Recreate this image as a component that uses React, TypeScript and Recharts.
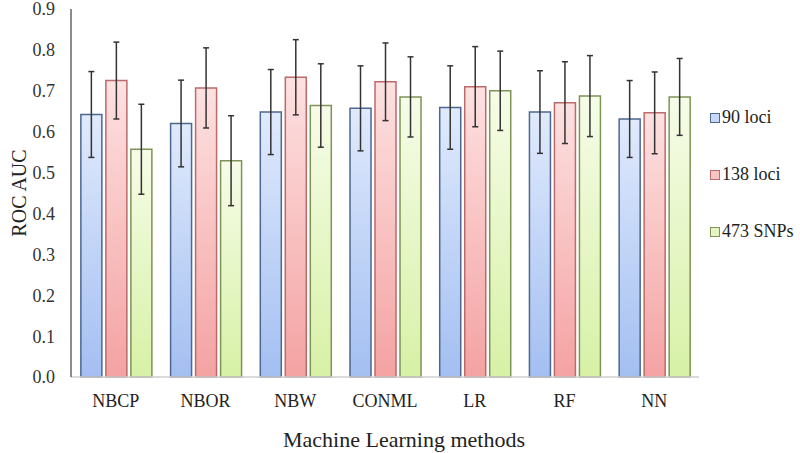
import { BarChart, Bar, XAxis, YAxis, Legend, ErrorBar } from "recharts";

const methods = ["NBCP", "NBOR", "NBW", "CONML", "LR", "RF", "NN"];
const loci90 = [0.642, 0.62, 0.648, 0.657, 0.659, 0.648, 0.631];
const loci90Err = [0.105, 0.106, 0.104, 0.104, 0.102, 0.101, 0.094];
const loci138 = [0.725, 0.707, 0.733, 0.722, 0.71, 0.671, 0.646];
const loci138Err = [0.094, 0.098, 0.092, 0.095, 0.098, 0.1, 0.1];
const snps473 = [0.557, 0.529, 0.664, 0.685, 0.7, 0.687, 0.685];
const snps473Err = [0.11, 0.11, 0.102, 0.098, 0.097, 0.099, 0.094];
const seriesNames = ["90 loci", "138 loci", "473 SNPs"];
const yTicks = [0, 0.1, 0.2, 0.3, 0.4, 0.5, 0.6, 0.7, 0.8, 0.9];

const data = methods.map((m, i) => ({
    method: m,
    l90: loci90[i],
    l90e: loci90Err[i],
    l138: loci138[i],
    l138e: loci138Err[i],
    s473: snps473[i],
    s473e: snps473Err[i],
}));

const serif = '"Liberation Serif", "Times New Roman", serif';

const legendItems = [
    { name: seriesNames[0], fill: "#c6d8f6", stroke: "#4d6791" },
    { name: seriesNames[1], fill: "#f9c4c4", stroke: "#bb6b6b" },
    { name: seriesNames[2], fill: "#e3f6bf", stroke: "#7f9356" },
];

const renderLegend = () => (
    <div style={{ fontFamily: serif, fontSize: 18, color: "#222" }}>
        {legendItems.map((s) => (
            <div key={s.name} style={{ height: 57, display: "flex", alignItems: "center" }}>
                <span
                    style={{
                        display: "inline-block",
                        width: 8,
                        height: 8,
                        border: `1px solid ${s.stroke}`,
                        background: s.fill,
                        marginRight: 2,
                    }}
                />
                <span>{s.name}</span>
            </div>
        ))}
    </div>
);

export default function App() {
    return (
        <div
            style={{
                position: "absolute",
                left: 0,
                top: 0,
                width: 800,
                height: 453,
                background: "#fff",
                fontFamily: serif,
            }}
        >
            <BarChart
                width={800}
                height={453}
                data={data}
                margin={{ top: 9, right: 101, bottom: 0, left: 0 }}
                barCategoryGap="11%"
                barGap={4}
                style={{ fontFamily: serif }}
            >
                <defs>
                    <linearGradient id="gBlue" x1="0" y1="0" x2="0" y2="1">
                        <stop offset="0%" stopColor="#e0eafc" />
                        <stop offset="100%" stopColor="#a3bff1" />
                    </linearGradient>
                    <linearGradient id="gRed" x1="0" y1="0" x2="0" y2="1">
                        <stop offset="0%" stopColor="#fde1e1" />
                        <stop offset="100%" stopColor="#f4a2a2" />
                    </linearGradient>
                    <linearGradient id="gGreen" x1="0" y1="0" x2="0" y2="1">
                        <stop offset="0%" stopColor="#f6fce8" />
                        <stop offset="100%" stopColor="#d7f1a6" />
                    </linearGradient>
                </defs>

                <XAxis
                    dataKey="method"
                    height={76}
                    tickLine={false}
                    tickSize={0}
                    tickMargin={17}
                    axisLine={{ stroke: "#cfcfcf", strokeWidth: 1.5 }}
                    tick={{ fontSize: 18, fill: "#222", fontFamily: serif }}
                    label={{
                        value: "Machine Learning methods",
                        position: "insideBottom",
                        offset: 6,
                        dx: 19,
                        fontSize: 22,
                        fill: "#222",
                        fontFamily: serif,
                    }}
                />
                <XAxis
                    xAxisId="top"
                    dataKey="method"
                    orientation="top"
                    height={0}
                    tick={false}
                    tickLine={false}
                    axisLine={{ stroke: "#888", strokeWidth: 1.5 }}
                />
                <YAxis
                    width={71}
                    domain={[0, 0.9]}
                    ticks={yTicks}
                    interval={0}
                    tickLine={false}
                    tickSize={0}
                    tickMargin={16}
                    tickFormatter={(v) => Number(v).toFixed(1)}
                    axisLine={{ stroke: "#666", strokeWidth: 1.5 }}
                    tick={{ fontSize: 18, fill: "#333", fontFamily: serif }}
                    label={{
                        value: "ROC AUC",
                        angle: -90,
                        position: "center",
                        dx: -17,
                        fontSize: 20,
                        fill: "#222",
                        fontFamily: serif,
                    }}
                />
                <YAxis
                    yAxisId="right"
                    orientation="right"
                    width={0}
                    domain={[0, 0.9]}
                    tick={false}
                    tickLine={false}
                    axisLine={{ stroke: "#888", strokeWidth: 1.5 }}
                />

                <Legend
                    layout="vertical"
                    align="center"
                    verticalAlign="middle"
                    content={renderLegend}
                    wrapperStyle={{ left: 710, top: 89, width: 90 }}
                />

                <Bar dataKey="l90" name={seriesNames[0]} fill="url(#gBlue)" stroke="#4d6791" strokeWidth={1.5} isAnimationActive={false}>
                    <ErrorBar dataKey="l90e" width={3} stroke="#333" strokeWidth={1.5} />
                </Bar>
                <Bar dataKey="l138" name={seriesNames[1]} fill="url(#gRed)" stroke="#bb6b6b" strokeWidth={1.5} isAnimationActive={false}>
                    <ErrorBar dataKey="l138e" width={3} stroke="#333" strokeWidth={1.5} />
                </Bar>
                <Bar dataKey="s473" name={seriesNames[2]} fill="url(#gGreen)" stroke="#7f9356" strokeWidth={1.5} isAnimationActive={false}>
                    <ErrorBar dataKey="s473e" width={3} stroke="#333" strokeWidth={1.5} />
                </Bar>
            </BarChart>
        </div>
    );
}
